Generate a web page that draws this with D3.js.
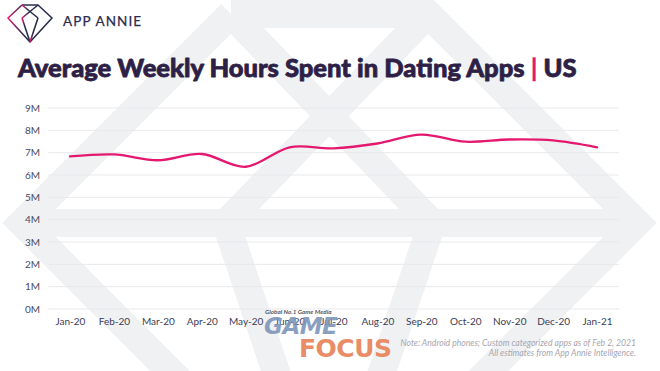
<!DOCTYPE html>
<html>
<head>
<meta charset="utf-8">
<script src="https://cdn.jsdelivr.net/npm/d3@7"></script>
<style>
  html, body { margin: 0; padding: 0; background: #ffffff; }
  svg { display: block; }
</style>
</head>
<body>
<div id="grafica"></div>
<script>
// datos (millones de horas)
let meses = ["Jan-20","Feb-20","Mar-20","Apr-20","May-20","Jun-20","Jul-20","Aug-20","Sep-20","Oct-20","Nov-20","Dec-20","Jan-21"];
let horas = [6.83, 6.92, 6.66, 6.94, 6.37, 7.24, 7.19, 7.41, 7.81, 7.49, 7.59, 7.55, 7.24];
let yticks = [0,1,2,3,4,5,6,7,8,9];
let titulo = "Average Weekly Hours Spent in Dating Apps";
let notas = ["Note: Android phones; Custom categorized apps as of Feb 2, 2021",
             "All estimates from App Annie Intelligence."];

let width = 660, height = 371;
let margin = {"top":108,"bottom":62,"left":48,"right":41};

let svg = d3.select("#grafica")
    .append("svg")
    .attr("width",width)
    .attr("height",height);

// logo gigante de fondo (diamante)
let fondo = svg.append("g")
    .style("fill","none")
    .style("stroke","#f0f1f3")
    .style("stroke-width",28)
    .style("stroke-linejoin","miter");

let diamante = [
    [[231,14],[428,14],[637,223],[329,530],[22,223],[231,14]],
    [[22,223],[637,223]],
    [[231,14],[432,223]],
    [[428,14],[226,223]],
    [[226,223],[329,530]],
    [[432,223],[329,530]]
];

fondo.selectAll("path")
    .data(diamante)
    .enter()
    .append("path")
    .attr("d",d => d3.line()(d));

// escalas
let xscale = d3.scalePoint()
    .domain(meses)
    .range([margin.left,width - margin.right])
    .padding(0.5);

let yscale = d3.scaleLinear()
    .domain([0,9])
    .range([height - margin.bottom,margin.top]);

// rejilla
svg.append("g")
    .selectAll("line")
    .data(yticks)
    .enter()
    .append("line")
    .attr("x1",margin.left)
    .attr("x2",width - margin.right)
    .attr("y1",d => yscale(d))
    .attr("y2",d => yscale(d))
    .style("stroke","#e9e9ec")
    .style("stroke-width",1);

// eje y
let ejey = svg.append("g")
    .attr("transform","translate(" + (margin.left - 8) + ",0)")
    .call(d3.axisLeft(yscale).tickValues(yticks).tickSize(0).tickPadding(0).tickFormat(d => d + "M"));

ejey.select(".domain").remove();
ejey.selectAll("text")
    .style("font-family","Lato, 'Open Sans', sans-serif")
    .style("font-size","10px")
    .style("fill","#4a4a5e");

// eje x
let ejex = svg.append("g")
    .attr("transform","translate(0," + (height - margin.bottom) + ")")
    .call(d3.axisBottom(xscale).tickSize(0).tickPadding(9));

ejex.select(".domain").remove();
ejex.selectAll("text")
    .style("font-family","Lato, 'Open Sans', sans-serif")
    .style("font-size","10px")
    .style("fill","#3c3c56");

// serie
let linea = d3.line()
    .x((d,i) => xscale(meses[i]))
    .y(d => yscale(d))
    .curve(d3.curveCardinal);

svg.append("path")
    .datum(horas)
    .attr("d",linea)
    .style("fill","none")
    .style("stroke","#e5186f")
    .style("stroke-width",2.3)
    .style("stroke-linecap","round");

// titulo
let tit = svg.append("text")
    .attr("x",18)
    .attr("y",77)
    .style("font-family","Lato, sans-serif")
    .style("font-weight","900")
    .style("font-size","24px")
    .style("fill","#2e1f47")
    .style("stroke","#2e1f47")
    .style("stroke-width",0.8)
    .style("stroke-linejoin","round");

tit.append("tspan").text(titulo + " ");
tit.append("tspan").text("|").style("fill","#e5186f").style("stroke","#e5186f").style("stroke-width",0.3);
tit.append("tspan").text(" US");

let largo = tit.node().getComputedTextLength();
tit.style("font-size",(24*559/largo) + "px");

// logo pequeño
let logo = svg.append("g")
    .style("fill","none")
    .style("stroke","#2b2d4e")
    .style("stroke-width",1.6)
    .style("stroke-linejoin","round");

let grad = svg.append("defs")
    .append("linearGradient")
    .attr("id","gradlogo")
    .attr("x1","0%").attr("x2","100%");
grad.append("stop").attr("offset","0%").attr("stop-color","#e5186f");
grad.append("stop").attr("offset","35%").attr("stop-color","#2b2d4e");
grad.append("stop").attr("offset","100%").attr("stop-color","#2b2d4e");

let icono = [
    [[22,5],[38,5],[52,18],[30,42],[8,18],[22,5]],
    [[8,18],[52,18]],
    [[22,5],[38,18]],
    [[38,5],[22,18]],
    [[22,18],[30,42]],
    [[38,18],[30,42]]
];

logo.selectAll("path")
    .data(icono)
    .enter()
    .append("path")
    .attr("d",d => d3.line()(d))
    .style("stroke","url(#gradlogo)");

svg.append("text")
    .attr("x",63)
    .attr("y",26)
    .text("APP ANNIE")
    .style("font-family","Lato, sans-serif")
    .style("font-size","13.5px")
    .style("letter-spacing","1.1px")
    .style("fill","#2b2d4e")
    .style("stroke","#2b2d4e")
    .style("stroke-width",0.25);

// marca de agua Game Focus
svg.append("text")
    .attr("x",265)
    .attr("y",314)
    .text("Global No.1 Game Media")
    .style("font-family","Lato, sans-serif")
    .style("font-style","italic")
    .style("font-weight","700")
    .style("font-size","6.3px")
    .style("fill","#555a66");

svg.append("text")
    .attr("x",264)
    .attr("y",334)
    .text("GAME")
    .style("font-family","'DejaVu Sans', sans-serif")
    .style("font-style","italic")
    .style("font-weight","700")
    .style("font-size","23px")
    .style("letter-spacing","-0.5px")
    .style("fill","#7b93b8")
    .style("opacity",0.88);

svg.append("text")
    .attr("x",299)
    .attr("y",357)
    .text("FOCUS")
    .style("font-family","'DejaVu Sans', sans-serif")
    .style("font-weight","700")
    .style("font-size","25px")
    .style("letter-spacing","-0.5px")
    .style("fill","#e8875f")
    .style("opacity",0.95);

// notas
svg.append("g")
    .selectAll("text")
    .data(notas)
    .enter()
    .append("text")
    .attr("x",636)
    .attr("y",(d,i) => 346 + i*10)
    .text(d => d)
    .style("text-anchor","end")
    .style("font-family","Lato, sans-serif")
    .style("font-style","italic")
    .style("font-size","8.6px")
    .style("fill","#a6a6b0");
</script>
</body>
</html>
